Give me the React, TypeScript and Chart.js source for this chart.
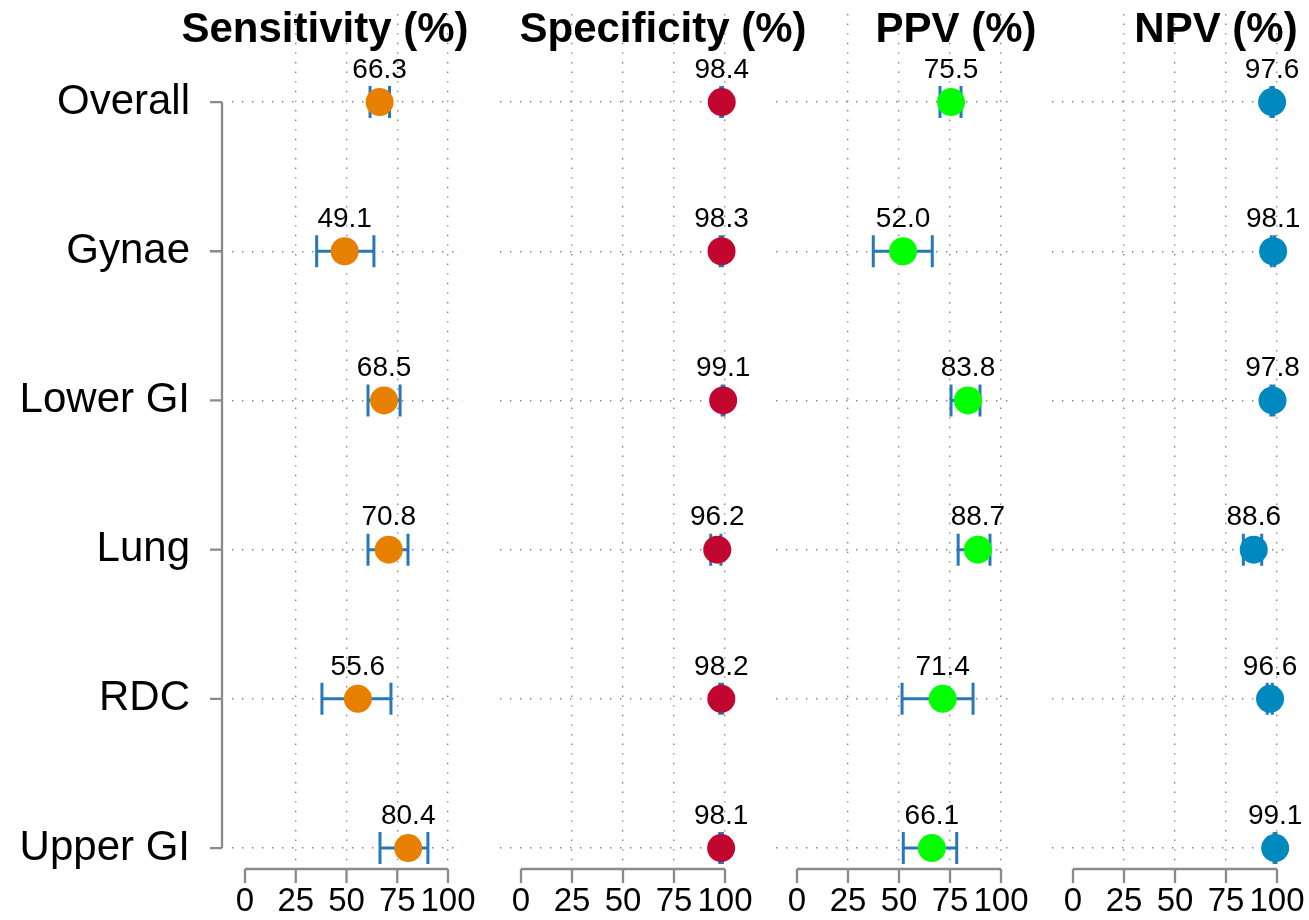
import React, { useEffect, useRef } from 'react';
import { Chart, registerables } from 'chart.js';

Chart.register(...registerables);

const categories = ['Overall', 'Gynae', 'Lower GI', 'Lung', 'RDC', 'Upper GI'];
const xTicks = [0, 25, 50, 75, 100];
const metricTitles = ['Sensitivity (%)', 'Specificity (%)', 'PPV (%)', 'NPV (%)'];

const sensitivity = [66.3, 49.1, 68.5, 70.8, 55.6, 80.4];
const sensitivityLow = [61.6, 35.3, 60.6, 60.6, 37.9, 66.5];
const sensitivityHigh = [71.2, 63.5, 76.4, 80.3, 71.9, 90.1];

const specificity = [98.4, 98.3, 99.1, 96.2, 98.2, 98.1];
const specificityLow = [97.9, 97.6, 98.6, 93.0, 97.4, 97.4];
const specificityHigh = [98.8, 98.8, 99.5, 98.0, 98.8, 98.7];

const ppv = [75.5, 52.0, 83.8, 88.7, 71.4, 66.1];
const ppvLow = [70.1, 37.4, 75.5, 79.0, 51.5, 52.1];
const ppvHigh = [80.4, 66.3, 89.7, 94.6, 86.3, 78.3];

const npv = [97.6, 98.1, 97.8, 88.6, 96.6, 99.1];
const npvLow = [97.0, 97.2, 97.0, 83.5, 95.2, 98.6];
const npvHigh = [98.2, 98.8, 98.5, 92.5, 97.7, 99.5];

const W = 1309;
const H = 920;
const FONT = '"Liberation Sans", Arial, Helvetica, sans-serif';

const panels = [
  { title: metricTitles[0], values: sensitivity, low: sensitivityLow, high: sensitivityHigh, color: '#E77F00', zeroPx: 245, ppu: 2.03, min: -6.4, max: 107, titleX: 325, showY: true },
  { title: metricTitles[1], values: specificity, low: specificityLow, high: specificityHigh, color: '#C1062F', zeroPx: 521, ppu: 2.04, min: -10.5, max: 107, titleX: 663, showY: false },
  { title: metricTitles[2], values: ppv, low: ppvLow, high: ppvHigh, color: '#00FF00', zeroPx: 797, ppu: 2.04, min: -10.5, max: 107, titleX: 956, showY: false },
  { title: metricTitles[3], values: npv, low: npvLow, high: npvHigh, color: '#0089BE', zeroPx: 1073, ppu: 2.04, min: -10.5, max: 107, titleX: 1216, showY: false },
];

const GRID = 'rgba(120,120,120,0.9)';
const AXIS = '#8a8a8a';
const ERR = '#2878B8';

function makeChart(canvas: HTMLCanvasElement, p: typeof panels[number]) {
  const chartLeft = p.zeroPx + p.min * p.ppu;
  const chartRight = p.zeroPx + p.max * p.ppu;
  const plotTop = 12;
  const xAxisH = 57;

  const panelPlugin = {
    id: 'panelPlugin',
    beforeDatasetsDraw(chart: any) {
      const ctx = chart.ctx;
      const xs = chart.scales.x;
      const ys = chart.scales.y;
      ctx.save();
      ctx.strokeStyle = ERR;
      ctx.lineWidth = 3;
      ctx.lineCap = 'butt';
      p.values.forEach((_, i) => {
        const y = ys.getPixelForValue(i);
        const x1 = xs.getPixelForValue(p.low[i]);
        const x2 = xs.getPixelForValue(p.high[i]);
        ctx.beginPath();
        ctx.moveTo(x1, y);
        ctx.lineTo(x2, y);
        ctx.moveTo(x1, y - 16);
        ctx.lineTo(x1, y + 16);
        ctx.moveTo(x2, y - 16);
        ctx.lineTo(x2, y + 16);
        ctx.stroke();
      });
      ctx.restore();
    },
    afterDatasetsDraw(chart: any) {
      const ctx = chart.ctx;
      const xs = chart.scales.x;
      const ys = chart.scales.y;
      ctx.save();
      ctx.fillStyle = '#000';
      ctx.font = `28px ${FONT}`;
      ctx.textAlign = 'center';
      ctx.textBaseline = 'middle';
      p.values.forEach((v, i) => {
        ctx.fillText(v.toFixed(1), xs.getPixelForValue(v), ys.getPixelForValue(i) - 32);
      });
      ctx.restore();
    },
    afterDraw(chart: any) {
      const ctx = chart.ctx;
      const xs = chart.scales.x;
      const ys = chart.scales.y;
      const area = chart.chartArea;
      ctx.save();
      ctx.strokeStyle = AXIS;
      ctx.lineWidth = 2.3;
      const ay = area.bottom + 6;
      const xa = xs.getPixelForValue(xTicks[0]);
      const xb = xs.getPixelForValue(xTicks[xTicks.length - 1]);
      ctx.beginPath();
      ctx.moveTo(xa, ay);
      ctx.lineTo(xb, ay);
      xTicks.forEach((t) => {
        const x = xs.getPixelForValue(t);
        ctx.moveTo(x, ay);
        ctx.lineTo(x, ay + 14);
      });
      ctx.stroke();
      if (p.showY) {
        const axX = 222;
        const y0 = ys.getPixelForValue(0);
        const y1 = ys.getPixelForValue(categories.length - 1);
        ctx.beginPath();
        ctx.moveTo(axX, y0);
        ctx.lineTo(axX, y1);
        categories.forEach((_, i) => {
          const y = ys.getPixelForValue(i);
          ctx.moveTo(axX, y);
          ctx.lineTo(axX - 12, y);
        });
        ctx.stroke();
      }
      ctx.fillStyle = '#000';
      ctx.font = `bold 42px ${FONT}`;
      ctx.textAlign = 'center';
      ctx.textBaseline = 'middle';
      ctx.fillText(p.title, p.titleX, 30);
      ctx.restore();
    },
  };

  return new Chart(canvas, {
    type: 'scatter',
    data: {
      datasets: [
        {
          data: p.values.map((v, i) => ({ x: v, y: i })),
          backgroundColor: p.color,
          borderWidth: 0,
          pointRadius: 14,
          pointHoverRadius: 14,
          clip: false as any,
        },
      ],
    },
    options: {
      responsive: false,
      animation: false,
      devicePixelRatio: 1,
      events: [],
      layout: {
        padding: {
          left: p.showY ? 0 : chartLeft,
          right: W - chartRight,
          top: plotTop,
          bottom: 0,
        },
      },
      plugins: {
        legend: { display: false },
        tooltip: { enabled: false },
        title: { display: false },
      },
      scales: {
        x: {
          type: 'linear',
          min: p.min,
          max: p.max,
          afterBuildTicks: (scale: any) => {
            scale.ticks = xTicks.map((v) => ({ value: v }));
          },
          afterFit: (scale: any) => {
            scale.height = xAxisH;
            scale.paddingLeft = 0;
            scale.paddingRight = 0;
            scale.paddingTop = 0;
            scale.paddingBottom = 0;
          },
          border: { display: false, dash: [1.4, 8.2] },
          grid: {
            drawTicks: false,
            color: (c: any) => (c.tick && c.tick.value === 0 ? 'rgba(0,0,0,0)' : GRID),
            lineWidth: 1.4,
          },
          ticks: {
            padding: 19,
            color: '#000',
            font: { size: 33, family: FONT },
            maxRotation: 0,
            autoSkip: false,
            callback: (v: any) => String(v),
          },
        },
        y: {
          type: 'linear',
          reverse: true,
          min: -0.59,
          max: 5.1,
          afterBuildTicks: (scale: any) => {
            scale.ticks = categories.map((_, i) => ({ value: i }));
          },
          afterFit: (scale: any) => {
            scale.width = p.showY ? chartLeft : 0;
            scale.paddingLeft = 0;
            scale.paddingRight = 0;
            scale.paddingTop = 0;
            scale.paddingBottom = 0;
          },
          border: { display: false, dash: [1.4, 8.6] },
          grid: {
            drawTicks: false,
            color: GRID,
            lineWidth: 1.4,
          },
          ticks: {
            display: p.showY,
            padding: 42,
            color: '#000',
            font: { size: 42, family: FONT },
            autoSkip: false,
            callback: (v: any) => categories[v as number] ?? '',
          },
        },
      },
    },
    plugins: [panelPlugin],
  } as any);
}

function App() {
  const refs = useRef<(HTMLCanvasElement | null)[]>([]);

  useEffect(() => {
    const charts = panels.map((p, i) => makeChart(refs.current[i] as HTMLCanvasElement, p));
    return () => charts.forEach((c) => c.destroy());
  }, []);

  return (
    <div style={{ position: 'fixed', left: 0, top: 0, width: W, height: H, background: '#fff' }}>
      {panels.map((p, i) => (
        <canvas
          key={p.title}
          ref={(el) => {
            refs.current[i] = el;
          }}
          width={W}
          height={H}
          style={{ position: 'absolute', left: 0, top: 0, width: W, height: H }}
        />
      ))}
    </div>
  );
}

export default App;
